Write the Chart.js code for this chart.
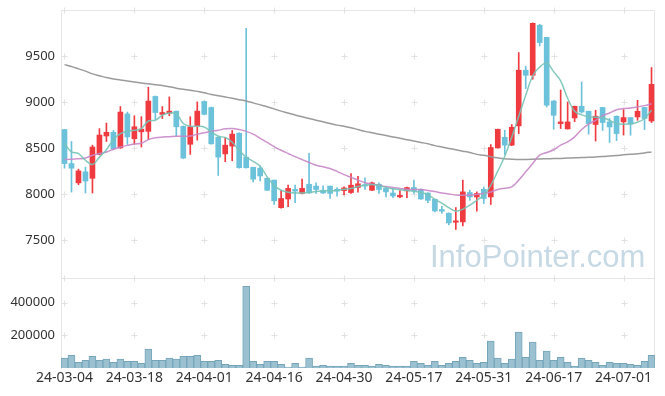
<!DOCTYPE html>
<html>
<head>
<meta charset="utf-8">
<script src="https://cdn.jsdelivr.net/npm/chart.js@4.4.1/dist/chart.umd.min.js"></script>
<style>
  html, body { margin: 0; padding: 0; background: #fff; }
  #wrap { position: relative; width: 665px; height: 396px; }
  #mark {
    position: absolute; left: 430px; top: 241px;
    font: 31px/31px "Liberation Sans", Arial, sans-serif;
    color: #c6d9e4; white-space: nowrap; pointer-events: none;
  }
</style>
</head>
<body>
<div id="wrap">
  <canvas id="chart" width="665" height="396"></canvas>
  <div id="mark">InfoPointer.com</div>
</div>
<script>
// trading days
const dates = [
  '24-03-04', '24-03-05', '24-03-06', '24-03-07', '24-03-08', '24-03-11', '24-03-12', '24-03-13', '24-03-14', '24-03-15',
  '24-03-18', '24-03-19', '24-03-20', '24-03-21', '24-03-22', '24-03-25', '24-03-26', '24-03-27', '24-03-28', '24-03-29',
  '24-04-01', '24-04-02', '24-04-03', '24-04-04', '24-04-05', '24-04-08', '24-04-09', '24-04-11', '24-04-12', '24-04-15',
  '24-04-16', '24-04-17', '24-04-18', '24-04-19', '24-04-22', '24-04-23', '24-04-24', '24-04-25', '24-04-26', '24-04-29',
  '24-04-30', '24-05-02', '24-05-03', '24-05-07', '24-05-08', '24-05-09', '24-05-10', '24-05-13', '24-05-14', '24-05-16',
  '24-05-17', '24-05-20', '24-05-21', '24-05-22', '24-05-23', '24-05-24', '24-05-27', '24-05-28', '24-05-29', '24-05-30',
  '24-05-31', '24-06-03', '24-06-04', '24-06-05', '24-06-07', '24-06-10', '24-06-11', '24-06-12', '24-06-13', '24-06-14',
  '24-06-17', '24-06-18', '24-06-19', '24-06-20', '24-06-21', '24-06-24', '24-06-25', '24-06-26', '24-06-27', '24-06-28',
  '24-07-01', '24-07-02', '24-07-03', '24-07-04', '24-07-05',
];

const opens = [
  8700, 8330, 8120, 8240, 8170, 8430, 8630, 8670, 8500, 8870,
  8600, 8675, 8680, 9060, 8865, 8878, 8900, 8735, 8540, 8740,
  9005, 8940, 8615, 8435, 8520, 8660, 8400, 8290, 8280, 8170,
  8150, 7850, 7945, 8050, 8005, 8105, 8085, 8040, 8085, 8050,
  8035, 8015, 8070, 8100, 8040, 8105, 8060, 8010, 7968, 8033,
  8070, 8048, 8010, 7942, 7830, 7790, 7692, 7696, 8015, 7967,
  8050, 7967, 8500, 8615, 8530, 8740, 9345, 9290, 9834, 9703,
  9010, 8765, 8707, 8826, 8953, 8899, 8755, 8940, 8783, 8845,
  8783, 8830, 8837, 8940, 8793,
];
const closes = [
  8330, 8280, 8250, 8140, 8510, 8640, 8670, 8490, 8890, 8620,
  8730, 8705, 9010, 8885, 8885, 8900, 8730, 8390, 8730, 8900,
  8865, 8545, 8400, 8530, 8650, 8285, 8285, 8160, 8195, 8040,
  7925, 7950, 8060, 8030, 8060, 8010, 8048, 8010, 8005, 8030,
  8065, 8095, 8110, 8085, 8120, 8048, 8022, 7978, 7986, 8069,
  8033, 7945, 7930, 7815, 7812, 7685, 7707, 8022, 7967, 8004,
  7950, 8505, 8703, 8530, 8725, 9345, 9290, 9855, 9646, 8965,
  8855, 8783, 8783, 8953, 8891, 8765, 8845, 8776, 8728, 8656,
  8830, 8758, 8899, 8820, 9192,
];
const highs = [
  8700, 8570, 8270, 8290, 8530, 8710, 8770, 8690, 8950, 8890,
  8850, 8840, 9160, 9065, 8950, 9055, 8900, 8740, 8840, 9000,
  9010, 8945, 8620, 8615, 8690, 8665, 9800, 8290, 8305, 8175,
  8150, 8040, 8095, 8095, 8160, 8440, 8120, 8088, 8085, 8070,
  8078, 8222, 8190, 8175, 8130, 8120, 8062, 8055, 8035, 8075,
  8150, 8055, 8012, 7945, 7866, 7795, 7852, 8150, 8040, 8022,
  8076, 8537, 8705, 8692, 8755, 9537, 9390, 9860, 9845, 9705,
  9015, 9130, 9000, 8955, 9217, 8900, 8910, 8942, 8820, 8848,
  8917, 8832, 9018, 8942, 9374,
];
const lows = [
  8280, 8020, 8100, 8010, 8010, 8425, 8570, 8480, 8495, 8540,
  8540, 8510, 8590, 8810, 8820, 8850, 8630, 8385, 8430, 8585,
  8860, 8540, 8200, 8350, 8360, 8280, 8280, 8130, 8140, 8035,
  7885, 7845, 7860, 7905, 8000, 8005, 8005, 8004, 7950, 7975,
  7990, 8004, 8020, 8048, 8035, 8005, 7968, 7960, 7960, 7960,
  8005, 7940, 7905, 7805, 7787, 7663, 7613, 7652, 7931, 7812,
  7895, 7885, 8498, 8428, 8525, 8656, 9146, 9247, 9609, 8945,
  8703, 8711, 8705, 8785, 8880, 8650, 8575, 8690, 8560, 8580,
  8640, 8638, 8800, 8700, 8776,
];

const volumes = [
  60000, 78000, 35000, 47000, 72000, 47000, 54000, 35000, 54000, 41000,
  41000, 29000, 115000, 47000, 47000, 60000, 54000, 72000, 72000, 78000,
  41000, 41000, 47000, 23000, 17000, 17000, 500000, 41000, 23000, 41000,
  41000, 23000, 6000, 29000, 5000, 60000, 11000, 17000, 11000, 11000,
  11000, 29000, 17000, 17000, 11000, 23000, 17000, 11000, 11000, 11000,
  41000, 29000, 17000, 41000, 17000, 29000, 41000, 66000, 47000, 29000,
  35000, 165000, 60000, 29000, 54000, 220000, 66000, 158000, 47000, 103000,
  47000, 66000, 35000, 11000, 60000, 47000, 35000, 17000, 35000, 29000,
  29000, 23000, 17000, 41000, 78000,
];

// moving averages
const ma5 = [
  8548, 8456, 8439, 8366, 8320, 8400, 8480, 8590, 8656, 8681,
  8692, 8711, 8793, 8801, 8855, 8880, 8874, 8765, 8736, 8736,
  8728, 8674, 8627, 8613, 8562, 8475, 8399, 8355, 8300, 8185,
  8090, 8040, 8018, 8011, 8011, 8018, 8026, 8033, 8033, 8037,
  8051, 8059, 8080, 8094, 8102, 8091, 8069, 8055, 8044, 8037,
  8030, 8015, 7993, 7940, 7900, 7850, 7812, 7834, 7877, 7931,
  7986, 8094, 8247, 8410, 8616, 8845, 9073, 9285, 9380, 9424,
  9330, 9230, 9040, 8900, 8860, 8840, 8835, 8830, 8800, 8765,
  8758, 8763, 8779, 8820, 8910,
];
const ma20 = [
  8373, 8378, 8382, 8390, 8420, 8440, 8456, 8485, 8511, 8528,
  8542, 8550, 8590, 8610, 8618, 8622, 8627, 8627, 8630, 8650,
  8665, 8681, 8692, 8708, 8712, 8700, 8680, 8650, 8605, 8560,
  8515, 8475, 8440, 8405, 8373, 8342, 8312, 8295, 8276, 8245,
  8210, 8180, 8150, 8122, 8105, 8094, 8080, 8069, 8060, 8051,
  8049, 8048, 8038, 8025, 8010, 8000, 7988, 7986, 7986, 7995,
  8004, 8020, 8048, 8062, 8076, 8150, 8240, 8330, 8421, 8450,
  8480, 8530, 8565, 8620, 8700, 8760, 8800, 8850, 8880, 8915,
  8928, 8935, 8946, 8960, 8980,
];
const ma60 = [
  9406, 9385, 9360, 9335, 9305, 9285, 9265, 9250, 9240, 9228,
  9217, 9207, 9197, 9188, 9180, 9166, 9150, 9138, 9128, 9115,
  9100, 9080, 9068, 9054, 9040, 9025, 9010, 8990, 8968, 8948,
  8925, 8900, 8880, 8858, 8838, 8820, 8802, 8784, 8766, 8748,
  8735, 8720, 8700, 8680, 8665, 8650, 8635, 8620, 8605, 8590,
  8575, 8560, 8545, 8525, 8510, 8495, 8480, 8465, 8450, 8430,
  8420, 8405, 8392, 8382, 8378, 8375, 8375, 8377, 8380, 8382,
  8384, 8386, 8390, 8392, 8395, 8398, 8402, 8406, 8412, 8418,
  8425, 8430, 8438, 8446, 8456,
];

const priceTicks = [7500, 8000, 8500, 9000, 9500];
const volumeTicks = [200000, 400000];

const upColor = '#ef3a40';
const downColor = '#6cc2da';
const candleColors = opens.map((o, i) => (closes[i] >= o ? upColor : downColor));

// light frame around the panels and the little "+" grid marks
const framePlugin = {
  id: 'frame',
  beforeDatasetsDraw(chart) {
    const { ctx, chartArea: a, scales } = chart;
    const y = scales.y;
    const yv = scales.yv;
    const x = scales.x;
    ctx.save();
    ctx.strokeStyle = '#e6e6e6';
    ctx.lineWidth = 1;
    ctx.beginPath();
    ctx.moveTo(a.left, a.top + 0.5);
    ctx.lineTo(a.right - 0.5, a.top + 0.5);
    ctx.lineTo(a.right - 0.5, a.bottom);
    ctx.moveTo(a.left, Math.round(y.bottom) + 0.5);
    ctx.lineTo(a.right, Math.round(y.bottom) + 0.5);
    ctx.stroke();

    const rows = priceTicks.map((v) => y.getPixelForValue(v))
      .concat([y.top, y.bottom])
      .concat(volumeTicks.map((v) => yv.getPixelForValue(v)));
    ctx.strokeStyle = '#e2e2e2';
    ctx.beginPath();
    for (let i = 0; i < dates.length; i += 10) {
      const px = Math.round(x.getPixelForValue(i)) + 0.5;
      rows.forEach((py) => {
        const ry = Math.round(py) + 0.5;
        ctx.moveTo(px - 3, ry);
        ctx.lineTo(px + 3, ry);
        ctx.moveTo(px, ry - 3);
        ctx.lineTo(px, ry + 3);
      });
    }
    ctx.stroke();
    ctx.restore();
  },
};

const tickFont = { family: '"Noto Sans", sans-serif', size: 13 };
const plainNumber = (v) => String(v);
// fixed axis width, and no extra room for half labels at the ends
const fitLeftAxis = (axis) => {
  axis.width = 61;
  axis.paddingTop = 0;
  axis.paddingBottom = 0;
};

new Chart(document.getElementById('chart'), {
  data: {
    labels: dates,
    datasets: [
      { type: 'line', label: 'MA5', data: ma5, yAxisID: 'y', borderColor: 'rgba(120,195,182,0.9)', borderWidth: 1.5, pointRadius: 0, tension: 0.35, order: 0 },
      { type: 'line', label: 'MA20', data: ma20, yAxisID: 'y', borderColor: 'rgba(200,135,200,0.9)', borderWidth: 1.5, pointRadius: 0, tension: 0.35, order: 0 },
      { type: 'line', label: 'MA60', data: ma60, yAxisID: 'y', borderColor: 'rgba(150,150,150,0.95)', borderWidth: 1.5, pointRadius: 0, tension: 0.35, order: 0 },
      { type: 'bar', label: 'body', data: opens.map((o, i) => [o, closes[i]]), yAxisID: 'y', backgroundColor: candleColors, barThickness: 5, minBarLength: 1, grouped: false, order: 1 },
      { type: 'bar', label: 'wick', data: lows.map((l, i) => [l, highs[i]]), yAxisID: 'y', backgroundColor: candleColors, barThickness: 1, grouped: false, order: 2 },
      { type: 'bar', label: 'volume', data: volumes, yAxisID: 'yv', backgroundColor: '#9bc1d1', borderColor: '#76a5ba', borderWidth: 1, barPercentage: 1, categoryPercentage: 1, grouped: false, order: 3 },
    ],
  },
  options: {
    responsive: false,
    animation: false,
    devicePixelRatio: 1,
    layout: { padding: { top: 10, right: 10, bottom: 6, left: 0 } },
    plugins: { legend: { display: false }, tooltip: { enabled: false } },
    scales: {
      x: {
        type: 'category',
        offset: true,
        grid: { display: false },
        border: { display: false },
        ticks: {
          autoSkip: false,
          maxRotation: 0,
          padding: -6,
          color: '#333',
          font: { family: '"Noto Sans", sans-serif', size: 14 },
          callback: (v, i) => (i % 10 === 0 ? dates[i] : null),
        },
        afterFit: (axis) => { axis.height = 22; },
      },
      yv: {
        type: 'linear',
        position: 'left',
        stack: 'panels',
        stackWeight: 1,
        min: 0,
        max: 550000,
        afterBuildTicks: (axis) => { axis.ticks = volumeTicks.map((v) => ({ value: v })); },
        grid: { display: false, drawTicks: false },
        border: { color: '#e6e6e6' },
        ticks: { padding: 6, color: '#333', font: tickFont, callback: plainNumber },
        afterFit: fitLeftAxis,
      },
      y: {
        type: 'linear',
        position: 'left',
        stack: 'panels',
        stackWeight: 2.98,
        min: 7085,
        max: 10000,
        afterBuildTicks: (axis) => { axis.ticks = priceTicks.map((v) => ({ value: v })); },
        grid: { display: false, drawTicks: false },
        border: { color: '#e6e6e6' },
        ticks: { padding: 6, color: '#333', font: tickFont, callback: plainNumber },
        afterFit: fitLeftAxis,
      },
    },
  },
  plugins: [framePlugin],
});
</script>
</body>
</html>
